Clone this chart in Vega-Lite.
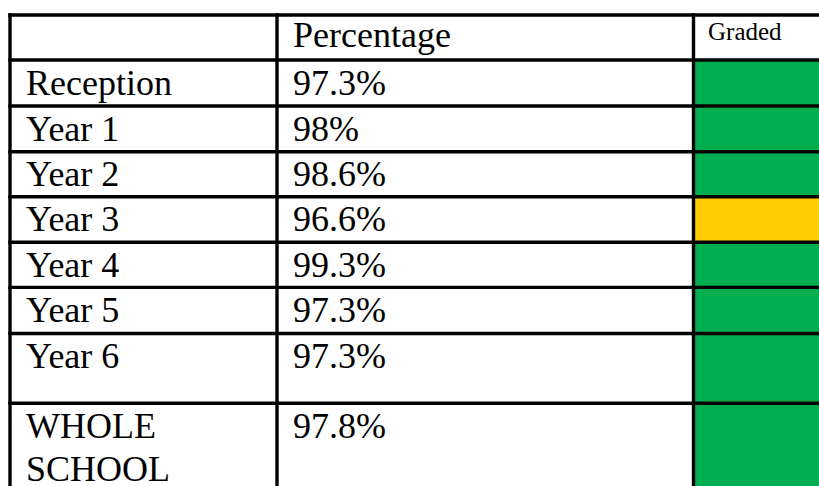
{
  "$schema": "https://vega.github.io/schema/vega-lite/v6.json",
  "width": 819,
  "height": 486,
  "padding": 0,
  "autosize": {"type": "none"},
  "background": "white",
  "config": {"view": {"stroke": null}, "axis": {"disable": true}},
  "datasets": {
    "rows": [
      {"row": 1, "rowEnd": 2, "group": "Reception", "attendance": 0.973, "grade": "Green"},
      {"row": 2, "rowEnd": 3, "group": "Year 1", "attendance": 0.98, "grade": "Green"},
      {"row": 3, "rowEnd": 4, "group": "Year 2", "attendance": 0.986, "grade": "Green"},
      {"row": 4, "rowEnd": 5, "group": "Year 3", "attendance": 0.966, "grade": "Amber"},
      {"row": 5, "rowEnd": 6, "group": "Year 4", "attendance": 0.993, "grade": "Green"},
      {"row": 6, "rowEnd": 7, "group": "Year 5", "attendance": 0.973, "grade": "Green"},
      {"row": 7, "rowEnd": 8, "group": "Year 6", "attendance": 0.973, "grade": "Green"},
      {"row": 8, "rowEnd": 9, "group": "WHOLE\nSCHOOL", "attendance": 0.978, "grade": "Green"}
    ],
    "columns": [
      {"col": 0}, {"col": 1}, {"col": 2}
    ],
    "header": [
      {"col": 1, "title": "Percentage"}
    ],
    "gradeHeader": [
      {"col": 2, "title": "Graded"}
    ],
    "one": [{"row": 0}]
  },
  "data": {"name": "rows"},
  "resolve": {"scale": {"x": "shared", "y": "shared"}},
  "layer": [
    {
      "mark": {"type": "rect"},
      "encoding": {
        "x": {"datum": 2, "type": "quantitative", "scale": {"domain": [0, 1, 2, 3], "range": [10, 277, 693.5, 835], "zero": false, "nice": false}},
        "x2": {"datum": 3},
        "y": {"field": "row", "type": "quantitative", "scale": {"domain": [0, 1, 2, 3, 4, 5, 6, 7, 8, 9], "range": [15, 60, 106, 151.7, 196.8, 242.3, 287.4, 333.5, 403.3, 496], "zero": false, "nice": false}},
        "y2": {"field": "rowEnd"},
        "color": {"field": "grade", "type": "nominal", "scale": {"domain": ["Green", "Amber"], "range": ["#00AE50", "#FFCC00"]}, "legend": null}
      }
    },
    {
      "mark": {"type": "rule", "color": "black", "strokeWidth": 3.4, "strokeCap": "square"},
      "encoding": {
        "y": {"field": "row", "type": "quantitative"},
        "x": {"datum": 0, "type": "quantitative"},
        "x2": {"datum": 3}
      }
    },
    {
      "data": {"name": "one"},
      "mark": {"type": "rule", "color": "black", "strokeWidth": 3.4, "strokeCap": "square"},
      "encoding": {
        "y": {"field": "row", "type": "quantitative"},
        "x": {"datum": 0, "type": "quantitative"},
        "x2": {"datum": 3}
      }
    },
    {
      "data": {"name": "columns"},
      "mark": {"type": "rule", "color": "black", "strokeWidth": 3.4, "strokeCap": "square"},
      "encoding": {
        "x": {"field": "col", "type": "quantitative"},
        "y": {"datum": 0, "type": "quantitative"},
        "y2": {"datum": 9}
      }
    },
    {
      "mark": {"type": "text", "font": "Liberation Serif", "fontSize": 36, "align": "left", "baseline": "alphabetic", "dx": 16, "dy": 34.5, "lineBreak": "\n", "lineHeight": 43, "color": "black"},
      "encoding": {
        "x": {"datum": 0, "type": "quantitative"},
        "y": {"field": "row", "type": "quantitative"},
        "text": {"field": "group", "type": "nominal"}
      }
    },
    {
      "mark": {"type": "text", "font": "Liberation Serif", "fontSize": 36, "align": "left", "baseline": "alphabetic", "dx": 16, "dy": 34.5, "color": "black"},
      "encoding": {
        "x": {"datum": 1, "type": "quantitative"},
        "y": {"field": "row", "type": "quantitative"},
        "text": {"field": "attendance", "type": "quantitative", "format": ".1~%"}
      }
    },
    {
      "data": {"name": "header"},
      "mark": {"type": "text", "font": "Liberation Serif", "fontSize": 36, "align": "left", "baseline": "alphabetic", "dx": 16, "dy": 32, "color": "black"},
      "encoding": {
        "x": {"field": "col", "type": "quantitative"},
        "y": {"datum": 0, "type": "quantitative"},
        "text": {"field": "title", "type": "nominal"}
      }
    },
    {
      "data": {"name": "gradeHeader"},
      "mark": {"type": "text", "font": "Liberation Serif", "fontSize": 25, "align": "left", "baseline": "alphabetic", "dx": 14.5, "dy": 24.5, "color": "black"},
      "encoding": {
        "x": {"field": "col", "type": "quantitative"},
        "y": {"datum": 0, "type": "quantitative"},
        "text": {"field": "title", "type": "nominal"}
      }
    }
  ]
}
